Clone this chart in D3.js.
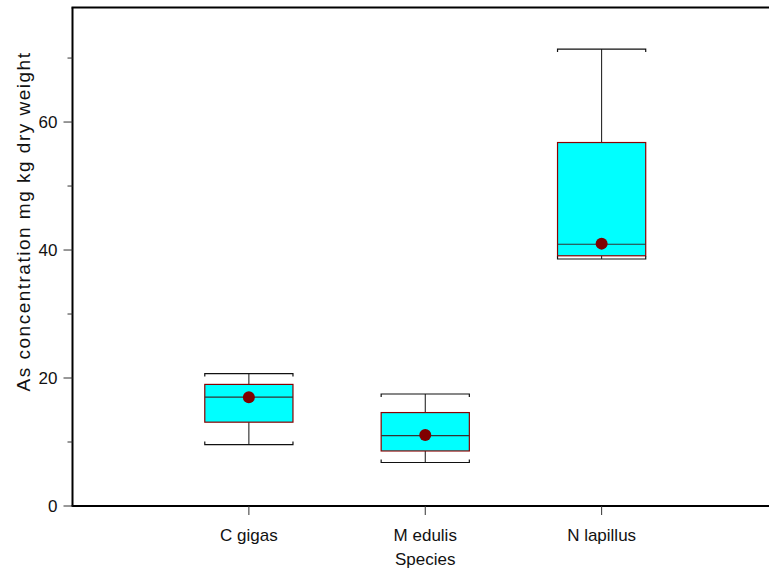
<!DOCTYPE html>
<html>
<head>
<meta charset="utf-8">
<script src="https://cdn.jsdelivr.net/npm/d3@7"></script>
<style>
  html, body { margin: 0; padding: 0; background: #fff; }
  svg text { font-family: "Liberation Sans", Arial, Helvetica, sans-serif; fill: #111; }
</style>
</head>
<body>
<svg id="chart" width="769" height="573"></svg>
<script>
// Box summaries per species (As concentration, mg/kg dry weight)
const species   = ["C gigas", "M edulis", "N lapillus"];
const whiskerLo = [9.6, 6.8, 38.6];
const q1        = [13.1, 8.6, 39.1];
const median    = [17.0, 11.0, 40.9];
const q3        = [19.0, 14.6, 56.8];
const whiskerHi = [20.7, 17.5, 71.4];
const means     = [17.0, 11.1, 41.0];
const majorTicks = [0, 20, 40, 60];
const minorTicks = [10, 30, 50, 70];

const boxes = species.map((s, i) => ({
  name: s, pos: i + 1,
  lo: whiskerLo[i], q1: q1[i], med: median[i], q3: q3[i], hi: whiskerHi[i], mean: means[i]
}));

const svg = d3.select("#chart");
const plotLeft = 72.5, plotRight = 778, plotTop = 7.5, plotBottom = 506;

const x = d3.scaleLinear().domain([0, 4]).range([plotLeft, plotRight]);
const y = d3.scaleLinear().domain([0, 77.9]).range([plotBottom, plotTop]);

const boxHalf = (x(1) - x(0)) / 4;

// Frame: left axis, bottom axis, top border
svg.append("line").attr("x1", plotLeft).attr("x2", plotLeft).attr("y1", plotTop).attr("y2", plotBottom)
  .attr("stroke", "#000").attr("stroke-width", 2);
svg.append("line").attr("x1", plotLeft - 1).attr("x2", 769).attr("y1", plotBottom).attr("y2", plotBottom)
  .attr("stroke", "#000").attr("stroke-width", 2);
svg.append("line").attr("x1", plotLeft - 1).attr("x2", 769).attr("y1", plotTop).attr("y2", plotTop)
  .attr("stroke", "#000").attr("stroke-width", 2);

// Y axis ticks and labels
const yAxis = svg.append("g");
yAxis.selectAll("line.major").data(majorTicks).join("line").attr("class", "major")
  .attr("x1", plotLeft - 9).attr("x2", plotLeft).attr("y1", d => y(d)).attr("y2", d => y(d))
  .attr("stroke", "#333").attr("stroke-width", 1);
yAxis.selectAll("line.minor").data(minorTicks).join("line").attr("class", "minor")
  .attr("x1", plotLeft - 5).attr("x2", plotLeft).attr("y1", d => y(d)).attr("y2", d => y(d))
  .attr("stroke", "#333").attr("stroke-width", 1);
yAxis.selectAll("text").data(majorTicks).join("text")
  .attr("x", plotLeft - 15).attr("y", d => y(d)).attr("dy", "0.36em")
  .attr("text-anchor", "end").attr("font-size", "17px").text(d => d);

// X axis ticks and labels
const xAxis = svg.append("g");
xAxis.selectAll("line").data(boxes).join("line")
  .attr("x1", d => x(d.pos)).attr("x2", d => x(d.pos))
  .attr("y1", plotBottom).attr("y2", plotBottom + 9)
  .attr("stroke", "#333").attr("stroke-width", 1);
xAxis.selectAll("text").data(boxes).join("text")
  .attr("x", d => x(d.pos)).attr("y", 541)
  .attr("text-anchor", "middle").attr("font-size", "17px").text(d => d.name);

// Axis titles
svg.append("text").attr("x", x(2)).attr("y", 565)
  .attr("text-anchor", "middle").attr("font-size", "17px").text("Species");
svg.append("text")
  .attr("transform", `translate(29.5,221.5) rotate(-90)`)
  .attr("text-anchor", "middle").attr("font-size", "19px")
  .attr("letter-spacing", "1.5px")
  .text("As concentration mg kg dry weight");

// Box plots
const g = svg.append("g").selectAll("g").data(boxes).join("g");

// Whisker stems
g.append("line").attr("x1", d => x(d.pos)).attr("x2", d => x(d.pos))
  .attr("y1", d => y(d.hi)).attr("y2", d => y(d.q3))
  .attr("stroke", "#111").attr("stroke-width", 1);
g.append("line").attr("x1", d => x(d.pos)).attr("x2", d => x(d.pos))
  .attr("y1", d => y(d.q1)).attr("y2", d => y(d.lo))
  .attr("stroke", "#111").attr("stroke-width", 1);

// Whisker caps with small bracket ends
g.append("path")
  .attr("d", d => {
    const a = x(d.pos) - boxHalf, b = x(d.pos) + boxHalf, yy = y(d.hi);
    return `M${a},${yy + 3}V${yy}H${b}V${yy + 3}`;
  })
  .attr("fill", "none").attr("stroke", "#111").attr("stroke-width", 1.2);
g.append("path")
  .attr("d", d => {
    const a = x(d.pos) - boxHalf, b = x(d.pos) + boxHalf, yy = y(d.lo);
    return `M${a},${yy - 3}V${yy}H${b}V${yy - 3}`;
  })
  .attr("fill", "none").attr("stroke", "#111").attr("stroke-width", 1.2);

// Boxes
g.append("rect")
  .attr("x", d => x(d.pos) - boxHalf).attr("width", 2 * boxHalf)
  .attr("y", d => y(d.q3)).attr("height", d => y(d.q1) - y(d.q3))
  .attr("fill", "#00FFFF").attr("stroke", "#8B0000").attr("stroke-width", 1.2);

// Medians
g.append("line")
  .attr("x1", d => x(d.pos) - boxHalf).attr("x2", d => x(d.pos) + boxHalf)
  .attr("y1", d => y(d.med)).attr("y2", d => y(d.med))
  .attr("stroke", "#333").attr("stroke-width", 1.2);

// Means
g.append("circle")
  .attr("cx", d => x(d.pos)).attr("cy", d => y(d.mean)).attr("r", 6)
  .attr("fill", "#800000");
</script>
</body>
</html>
